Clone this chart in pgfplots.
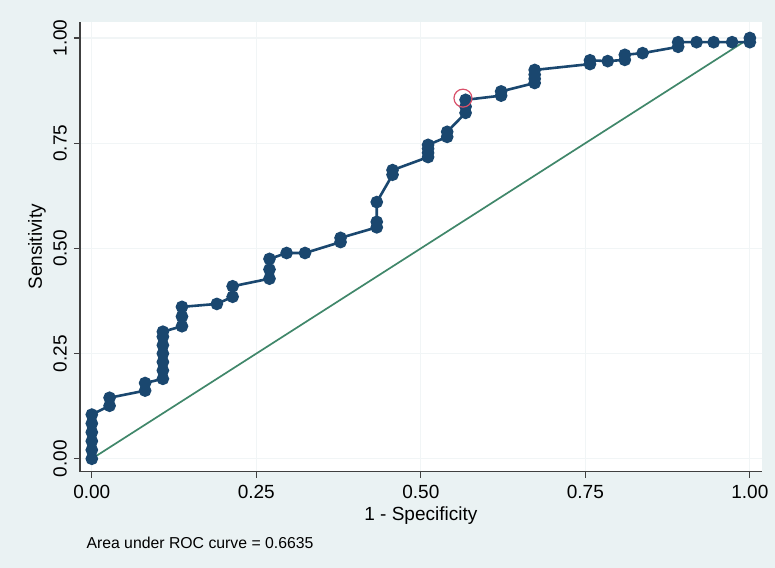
\documentclass[border=0pt]{standalone}
\usepackage{pgfplots}
\pgfplotsset{compat=1.18}
\usepackage{fontspec}
\setmainfont{Liberation Sans}
\definecolor{bgc}{HTML}{EAF2F3}
\definecolor{navy}{HTML}{1A476F}
\definecolor{refgreen}{HTML}{40876A}
\definecolor{gridc}{HTML}{F1F5F6}
\definecolor{circred}{HTML}{D9506A}
\begin{document}
\begin{tikzpicture}
\fill[bgc] (0,0) rectangle (387.5pt,284pt);
\begin{axis}[
  at={(40pt,48pt)}, anchor=south west,
  scale only axis, width=341pt, height=225pt,
  xmin=-0.018, xmax=1.018, ymin=-0.031, ymax=1.038,
  axis x line*=bottom, axis y line*=left,
  axis line style={black!75, line width=0.6pt, -},
  axis background/.style={fill=white},
  xtick={0,0.25,0.5,0.75,1}, ytick={0,0.25,0.5,0.75,1},
  tick align=outside, major tick length=3pt,
  tick style={black!75, line width=0.6pt},
  grid=major, major grid style={gridc, line width=0.6pt},
  /pgf/number format/assume math mode=true,
  /pgf/number format/.cd, fixed, fixed zerofill, precision=2, /pgfplots/.cd,
  ticklabel style={font=\fontsize{9.5}{10}\selectfont},
  yticklabel style={rotate=90, anchor=south},
  xlabel={1 - Specificity}, ylabel={Sensitivity},
  label style={font=\fontsize{9.5}{10}\selectfont},
  xlabel style={at={(axis description cs:0.5,-0.098)}, anchor=center},
  ylabel style={at={(axis description cs:-0.063,0.5)}, anchor=center},
  clip=false,
]
\addplot[refgreen, line width=0.85pt] coordinates {(0,0) (1,1)};
\addplot[navy, line width=1.3pt, mark=*, mark size=2.5pt, mark options={fill=navy, draw=navy}] coordinates {
(0,0) (0,0.021) (0,0.042) (0,0.063) (0,0.084) (0,0.105)
(0.027,0.126) (0.027,0.145)
(0.081,0.162) (0.081,0.18)
(0.108,0.19) (0.108,0.21) (0.108,0.23) (0.108,0.25) (0.108,0.27) (0.108,0.29) (0.108,0.302)
(0.137,0.315) (0.137,0.338) (0.137,0.361)
(0.19,0.368)
(0.214,0.385) (0.214,0.41)
(0.27,0.428) (0.27,0.45) (0.27,0.475)
(0.296,0.489)
(0.324,0.489)
(0.378,0.515) (0.378,0.525)
(0.433,0.55) (0.433,0.563) (0.433,0.61)
(0.457,0.675) (0.457,0.686)
(0.511,0.717) (0.511,0.727) (0.511,0.737) (0.511,0.746)
(0.54,0.765) (0.54,0.777)
(0.568,0.822) (0.568,0.837) (0.568,0.853)
(0.622,0.863) (0.622,0.873)
(0.673,0.893) (0.673,0.903) (0.673,0.913) (0.673,0.924)
(0.757,0.938) (0.757,0.947)
(0.784,0.945)
(0.81,0.948) (0.81,0.96)
(0.837,0.964)
(0.891,0.979) (0.891,0.99)
(0.919,0.99)
(0.945,0.99)
(0.973,0.99)
(1,0.99) (1,1)
};
\addplot[only marks, mark=o, mark size=4.5pt, circred, mark options={line width=0.6pt}] coordinates {(0.564,0.857)};
\node[anchor=west, font=\fontsize{7.9}{8}\selectfont, inner sep=0pt] at (axis description cs:0.009,-0.158) {Area under ROC curve = 0.6635};
\end{axis}
\end{tikzpicture}
\end{document}
